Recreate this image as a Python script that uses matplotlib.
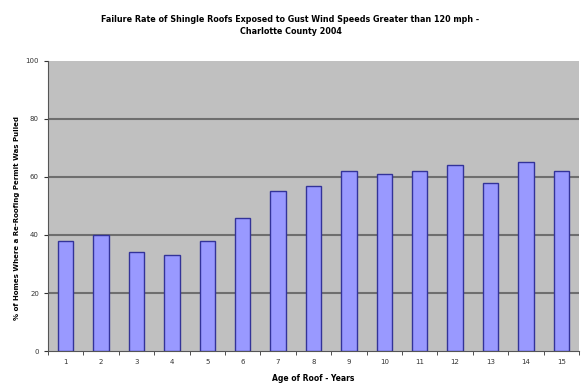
import numpy as np
from matplotlib import pyplot as plt

ages = [str(i) for i in range(1, 16)]
failure_pct = [38, 40, 34, 33, 38, 46, 55, 57, 62, 61, 62, 64, 58, 65, 62]
yticks = [0, 20, 40, 60, 80, 100]

fig = plt.figure(figsize=(5.81, 3.87), dpi=100)
ax = fig.add_axes([48/581, 1 - 351/387, 531/581, 290/387])

x = np.arange(len(ages))
ax.set_facecolor('#c0c0c0')
ax.bar(x, failure_pct, width=0.43, color='#9999ff', edgecolor='#333399', linewidth=1, zorder=3)

ax.set_xlim(-0.5, len(ages) - 0.5)
ax.set_ylim(0, 100)
ax.set_yticks(yticks)
ax.set_xticks(x)
ax.set_xticklabels(ages)
ax.set_xticks(np.arange(-0.5, len(ages)), minor=True)
ax.tick_params(axis='x', which='major', length=0, pad=6)
ax.tick_params(axis='x', which='minor', length=3, color='#333333', direction='out')
ax.tick_params(axis='y', length=3, color='#333333')
ax.tick_params(labelsize=5, labelcolor='#333333')

for v in yticks[1:-1]:
    ax.axhline(v, color='#6e6e6e', linewidth=1.5, zorder=1)

for s in ['top', 'right']:
    ax.spines[s].set_visible(False)
ax.spines['left'].set_color('#555555')
ax.spines['bottom'].set_color('#555555')

ax.set_xlabel('Age of Roof - Years', fontsize=5.5, fontweight='bold', labelpad=6)
ax.set_ylabel('% of Homes Where a Re-Roofing Permit Was Pulled', fontsize=5, fontweight='bold')
ax.yaxis.set_label_coords(-0.053, 0.46)

fig.text(0.5, 0.962, 'Failure Rate of Shingle Roofs Exposed to Gust Wind Speeds Greater than 120 mph -\nCharlotte County 2004',
         ha='center', va='top', fontsize=5.8, fontweight='bold', linespacing=1.4)

fig.savefig('out.png', dpi=100)
